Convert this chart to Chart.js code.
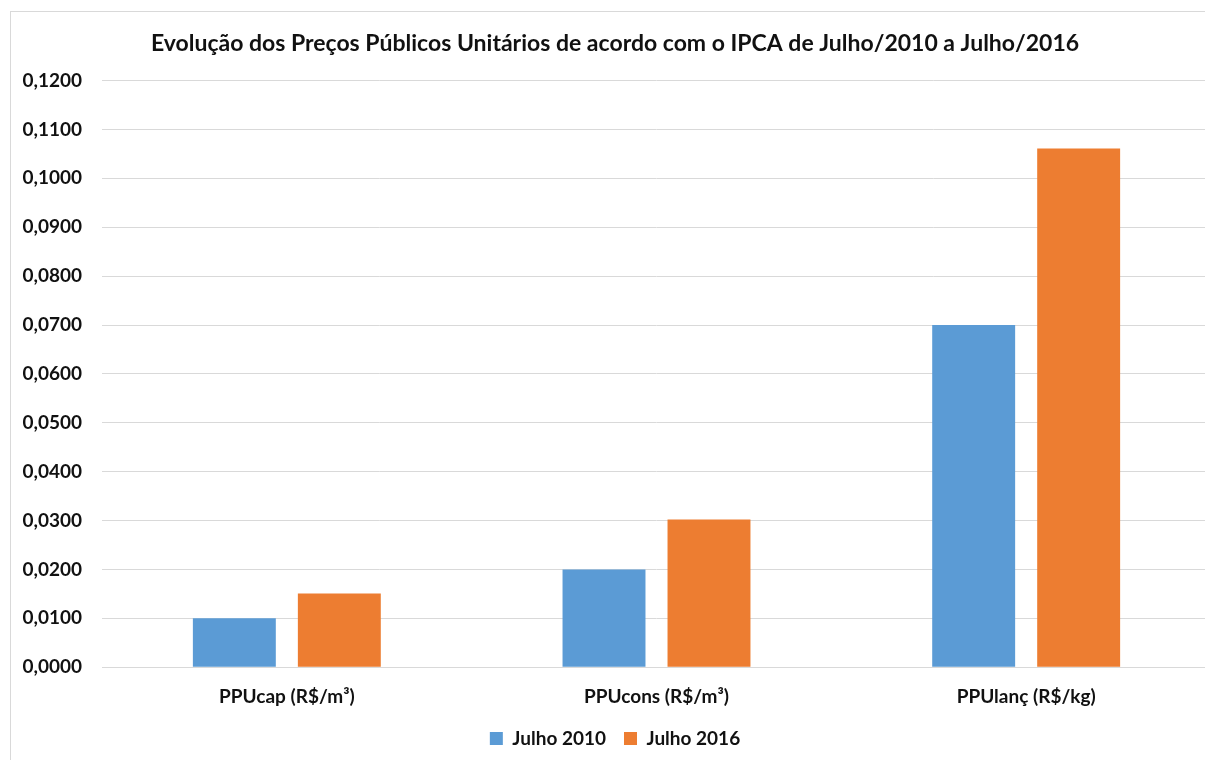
<!DOCTYPE html>
<html>
<head>
<meta charset="utf-8">
<script src="https://cdn.jsdelivr.net/npm/chart.js@4.4.0/dist/chart.umd.min.js"></script>
<style>
  html, body { margin: 0; padding: 0; background: #ffffff; overflow: hidden; }
  #frame {
    position: absolute; left: 10px; top: 11px;
    width: 1210px; height: 760px;
    border: 1px solid #d9d9d9; box-sizing: border-box;
  }
  #wrap { position: absolute; left: 0; top: 0; width: 1208px; height: 748px; }
</style>
</head>
<body>
<div id="frame"><div id="wrap"><canvas id="chart"></canvas></div></div>
<script>
// Categories and series
const categories = ['PPUcap (R$/m³)', 'PPUcons (R$/m³)', 'PPUlanç (R$/kg)'];
const julho2010 = [0.0100, 0.0200, 0.0700];
const julho2016 = [0.0151, 0.0302, 0.1061];

const FONT = 'Lato, "Liberation Sans", sans-serif';
const TEXT = '#111111';
const GRID = '#d9d9d9';

let chart;

function fmt(v) {
    return v.toFixed(4).replace('.', ',');
}

window.onload = function() {
    const ctx = document.getElementById('chart').getContext('2d');
    chart = new Chart(ctx, {
        type: 'bar',
        data: {
            labels: categories,
            datasets: [
                { label: 'Julho 2010', data: julho2010, backgroundColor: '#5b9bd5', borderWidth: 0 },
                { label: 'Julho 2016', data: julho2016, backgroundColor: '#ed7d31', borderWidth: 0 }
            ]
        },
        options: {
            responsive: true,
            maintainAspectRatio: false,
            animation: false,
            datasets: { bar: { categoryPercentage: 0.568, barPercentage: 0.79 } },
            layout: { padding: { left: 8, right: 8, top: 8, bottom: 2 } },
            scales: {
                x: {
                    grid: { display: false, drawTicks: false },
                    border: { color: GRID },
                    ticks: { color: TEXT, font: { family: FONT, size: 19, weight: 'bold' }, padding: 18 },
                    // shrink the axis box so the plot reaches further down, labels may sit in the legend gap
                    afterFit: s => { s.height -= 15; }
                },
                y: {
                    min: 0, max: 0.12,
                    grid: { color: GRID, drawTicks: false },
                    border: { display: false },
                    ticks: {
                        stepSize: 0.01,
                        color: TEXT,
                        padding: 20,
                        font: { family: FONT, size: 19, weight: 'bold' },
                        callback: v => fmt(v)
                    },
                    afterFit: s => { s.width = 83; }
                }
            },
            plugins: {
                title: {
                    display: true,
                    text: 'Evolução dos Preços Públicos Unitários de acordo com o IPCA de Julho/2010 a Julho/2016',
                    color: TEXT,
                    font: { family: FONT, size: 23, weight: 'bold' },
                    padding: { top: 10, bottom: 23 }
                },
                legend: {
                    position: 'bottom',
                    labels: {
                        color: TEXT,
                        boxWidth: 13, boxHeight: 13,
                        padding: 18,
                        font: { family: FONT, size: 19, weight: 'bold' }
                    }
                },
                tooltip: { enabled: false }
            }
        }
    });
};
</script>
</body>
</html>
